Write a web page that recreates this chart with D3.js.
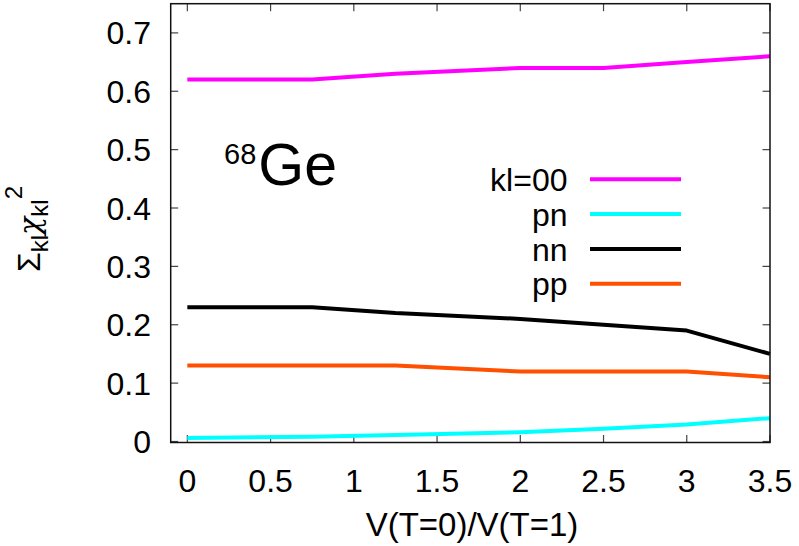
<!DOCTYPE html>
<html><head><meta charset="utf-8">
<script src="https://cdn.jsdelivr.net/npm/d3@7"></script>
<style>body{margin:0;background:#fff}svg{display:block}text{font-family:"Liberation Sans",Arial,sans-serif;fill:#000}</style>
</head><body>
<svg id="c" width="799" height="546"></svg>
<script>
const xValues = [0, 0.75, 1.25, 2, 2.5, 3, 3.5];
const seriesNames = ["kl=00", "pn", "nn", "pp"];
const kl00 = [0.62, 0.62, 0.63, 0.64, 0.64, 0.65, 0.66];
const pn   = [0.006, 0.008, 0.011, 0.016, 0.022, 0.029, 0.040];
const nn   = [0.23, 0.23, 0.22, 0.21, 0.20, 0.19, 0.15];
const pp   = [0.13, 0.13, 0.13, 0.12, 0.12, 0.12, 0.11];
const xTicks = [0, 0.5, 1, 1.5, 2, 2.5, 3, 3.5];
const yTicks = [0, 0.1, 0.2, 0.3, 0.4, 0.5, 0.6, 0.7];
const colors = ["#ff00ff", "#00ffff", "#000000", "#ff4f00"];

const series = [kl00, pn, nn, pp];
const svg = d3.select("#c");
const L = 170.7, R = 770, T = 3.7, B = 442.5;
const x = d3.scaleLinear().domain([-0.1, 3.5]).range([L, R]);
const y = d3.scaleLinear().domain([0, 0.75]).range([441.5, T]);
const fs = 32;

// ticks (mirrored, inward)
const tl = 7.5;
const tg = svg.append("g").attr("stroke", "#444").attr("stroke-width", 1.2);
xTicks.forEach(t => {
  tg.append("line").attr("x1", x(t)).attr("x2", x(t)).attr("y1", B).attr("y2", B - tl);
  tg.append("line").attr("x1", x(t)).attr("x2", x(t)).attr("y1", T).attr("y2", T + tl);
});
yTicks.forEach(t => {
  tg.append("line").attr("y1", y(t)).attr("y2", y(t)).attr("x1", L).attr("x2", L + tl);
  tg.append("line").attr("y1", y(t)).attr("y2", y(t)).attr("x1", R).attr("x2", R - tl);
});

// tick labels
svg.append("g").selectAll("text").data(xTicks).join("text")
  .attr("x", d => x(d)).attr("y", 492).attr("text-anchor", "middle")
  .attr("font-size", fs).text(d => d3.format("")(d));
svg.append("g").selectAll("text").data(yTicks).join("text")
  .attr("x", 151).attr("y", d => y(d) + fs * 0.36).attr("text-anchor", "end")
  .attr("font-size", fs).text(d => d3.format("")(d));

// lines
const line = d3.line().x((d, i) => x(xValues[i])).y(d => y(d));
series.forEach((s, k) => {
  svg.append("path").datum(s).attr("d", line).attr("fill", "none")
    .attr("stroke", colors[k]).attr("stroke-width", 4).attr("stroke-linejoin", "round");
});

// frame
svg.append("rect").attr("x", L).attr("y", T).attr("width", R - L).attr("height", B - T)
  .attr("fill", "none").attr("stroke", "#111").attr("stroke-width", 1.5);

// legend
const legY = [179.3, 214, 249, 283.7];
seriesNames.forEach((n, k) => {
  svg.append("text").attr("x", 567.5).attr("y", legY[k] + fs * 0.36)
    .attr("text-anchor", "end").attr("font-size", fs).text(n);
  svg.append("line").attr("x1", 590).attr("x2", 681).attr("y1", legY[k]).attr("y2", legY[k])
    .attr("stroke", colors[k]).attr("stroke-width", 4);
});

// annotation 68Ge
const ann = svg.append("text").attr("x", 224).attr("y", 185);
ann.append("tspan").attr("font-size", 29).attr("dy", -21).text("68");
ann.append("tspan").attr("font-size", 59).attr("dy", 21).attr("dx", 2).text("Ge");

// x label
svg.append("text").attr("x", 472).attr("y", 536).attr("text-anchor", "middle")
  .attr("font-size", 33).text("V(T=0)/V(T=1)");

// y label
const yl = svg.append("text").attr("transform", "translate(40,272) rotate(-90)").attr("font-size", fs);
yl.append("tspan").text("Σ");
yl.append("tspan").attr("font-size", 24).attr("dy", 8).text("kl");
yl.append("tspan").attr("dy", -8).attr("font-family", "DejaVu Serif").attr("font-style", "italic").attr("font-size", 30).text("χ");
yl.append("tspan").attr("font-size", 24).attr("dy", 8).text("kl");
yl.append("tspan").attr("font-size", 24).attr("dy", -26).text("2");
</script>
</body></html>
